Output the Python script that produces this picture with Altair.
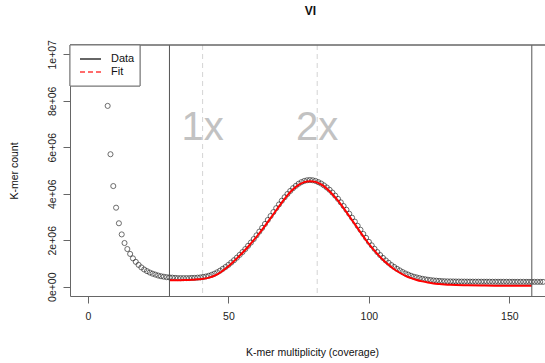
import altair as alt
import pandas as pd

# Observed k-mer histogram: multiplicity 7..162
coverage = list(range(7, 163))
kmer_count = [
    7780000, 5700000, 4330000, 3400000, 2730000, 2250000, 1880000, 1620000, 1410000, 1220000,
    1070000, 940000, 830000, 740000, 670000, 610000, 560000, 520000, 480000, 450000,
    430000, 410000, 400000, 390000, 380000, 370000, 370000, 370000, 370000, 370000,
    380000, 380000, 390000, 400000, 420000, 440000, 470000, 510000, 560000, 620000,
    690000, 770000, 850000, 940000, 1040000, 1140000, 1250000, 1370000, 1490000, 1620000,
    1760000, 1900000, 2050000, 2210000, 2370000, 2530000, 2700000, 2870000, 3040000, 3210000,
    3380000, 3540000, 3700000, 3850000, 3990000, 4120000, 4240000, 4340000, 4430000, 4500000,
    4550000, 4580000, 4590000, 4580000, 4550000, 4500000, 4440000, 4360000, 4270000, 4170000,
    4050000, 3920000, 3780000, 3630000, 3470000, 3310000, 3140000, 2970000, 2800000, 2620000,
    2450000, 2270000, 2100000, 1930000, 1780000, 1630000, 1490000, 1360000, 1240000, 1130000,
    1030000, 930000, 850000, 770000, 700000, 630000, 570000, 520000, 470000, 430000,
    400000, 370000, 340000, 320000, 300000, 285000, 270000, 260000, 250000, 240000,
    235000, 230000, 228000, 226000, 224000, 222000, 221000, 220000, 219000, 218000,
    217000, 216000, 216000, 215000, 215000, 214000, 214000, 213000, 213000, 212000,
    212000, 212000, 211000, 211000, 211000, 210000, 210000, 210000, 210000, 209000,
    209000, 209000, 209000, 208000, 208000, 208000,
]

# Model fit over the fitted range
fit_coverage = [
    29, 31, 33, 35, 37, 39, 41, 43, 45, 47, 49, 51, 53, 55, 57, 59, 61, 63, 65, 67,
    69, 71, 73, 75, 77, 79, 81, 83, 85, 87, 89, 91, 93, 95, 97, 99, 101, 103, 105, 107,
    109, 111, 113, 115, 117, 119, 121, 123, 125, 127, 129, 131, 135, 140, 145, 150, 158,
]
fit_count = [
    280000, 280000, 280000, 290000, 300000, 320000, 340000, 390000, 470000, 600000,
    780000, 990000, 1220000, 1460000, 1720000, 2000000, 2300000, 2620000, 2950000, 3290000,
    3620000, 3930000, 4190000, 4380000, 4500000, 4540000, 4510000, 4400000, 4220000, 3980000,
    3700000, 3380000, 3040000, 2690000, 2340000, 2000000, 1690000, 1410000, 1160000, 940000,
    750000, 600000, 470000, 370000, 290000, 230000, 180000, 140000, 115000, 95000,
    80000, 70000, 60000, 50000, 45000, 40000, 40000,
]

# Fit-range limits (solid) and haploid peak positions (dashed)
range_limits = [29, 158]
peak_labels = ["1x", "2x"]
peak_positions = [40.8, 81.6]
peak_label_y = [6300000, 6300000]

# Legend entries
legend_labels = ["Data", "Fit"]

x_ticks = [0, 50, 100, 150]
y_ticks = [0, 2000000, 4000000, 6000000, 8000000, 10000000]

FONT = "Liberation Sans"
W, H = 475, 251

hist = pd.DataFrame({"cov": coverage, "count": kmer_count})
fit = pd.DataFrame({"cov": fit_coverage, "count": fit_count})
limits = pd.DataFrame({"cov": range_limits})
peaks = pd.DataFrame({"cov": peak_positions, "label": peak_labels, "y": peak_label_y})
legend = pd.DataFrame({"label": legend_labels})

xs = alt.Scale(domain=[-6.41, 162.7], nice=False, zero=False)
ys = alt.Scale(domain=[-400000, 10400000], nice=False, zero=False)

x_axis = alt.Axis(
    values=x_ticks, format="d", grid=False, tickSize=7, tickColor="#666",
    domainColor="#666", labelFont=FONT, labelFontSize=10.5, labelColor="#222",
    labelPadding=8, title="K-mer multiplicity (coverage)", titleFont=FONT,
    titleFontSize=10.5, titleFontWeight="normal", titleColor="#111",
    titleX=242, titleY=56, titleBaseline="middle", titleAlign="center",
)
y_axis = alt.Axis(
    values=y_ticks, grid=False, tickSize=7, tickColor="#666", domainColor="#666",
    labelExpr="replace(format(datum.value, '.0e'), 'e+', 'e+0')",
    labelFont=FONT, labelFontSize=10.5, labelColor="#222", labelAngle=270,
    labelAlign="center", labelBaseline="bottom", labelPadding=6,
    title="K-mer count", titleFont=FONT, titleFontSize=10.5,
    titleFontWeight="normal", titleColor="#111", titleAngle=270,
    titleX=-56, titleY=H / 2, titleAlign="center", titleBaseline="middle",
)


def X(field):
    return alt.X(field, type="quantitative", scale=xs, axis=x_axis)


def Y(field):
    return alt.Y(field, type="quantitative", scale=ys, axis=y_axis)


peak_rules = alt.Chart(peaks).mark_rule(
    color="#d4d4d4", strokeDash=[5, 4], strokeWidth=1
).encode(x=X("cov"))

peak_text = alt.Chart(peaks).mark_text(
    font=FONT, fontSize=40, color="#c2c2c2", align="center", baseline="alphabetic"
).encode(x=X("cov"), y=Y("y"), text="label:N")

points = alt.Chart(hist).mark_point(
    shape="circle", filled=False, size=26, strokeWidth=0.9, color="#1a1a1a", clip=True
).encode(x=X("cov"), y=Y("count"))

fit_line = alt.Chart(fit).mark_line(
    color="#ff0000", strokeWidth=2, interpolate="monotone", clip=True
).encode(x=X("cov"), y=Y("count"))

limit_rules = alt.Chart(limits).mark_rule(color="#555", strokeWidth=1).encode(x=X("cov"))

top_border = alt.Chart(legend).mark_rule(color="#666", strokeWidth=1).encode(
    x=alt.value(0), x2=alt.value(W), y=alt.value(0)
)

# Legend box in the top-left corner
legend_box = alt.Chart(legend).mark_rect(
    fill="white", stroke="#777", strokeWidth=1
).encode(x=alt.value(0), x2=alt.value(70), y=alt.value(0), y2=alt.value(41))

legend_data = alt.Chart(legend).transform_filter("datum.label == 'Data'").mark_rule(
    color="#333", strokeWidth=1.5
).encode(x=alt.value(10), x2=alt.value(31), y=alt.value(14))

legend_fit = alt.Chart(legend).transform_filter("datum.label == 'Fit'").mark_rule(
    color="#ff3b3b", strokeWidth=1.5, strokeDash=[5, 3]
).encode(x=alt.value(10), x2=alt.value(31), y=alt.value(27))

text_style = dict(font=FONT, fontSize=11, color="#111", align="left", baseline="middle")
legend_text_data = alt.Chart(legend).transform_filter("datum.label == 'Data'").mark_text(
    **text_style
).encode(x=alt.value(41), y=alt.value(14), text="label:N")
legend_text_fit = alt.Chart(legend).transform_filter("datum.label == 'Fit'").mark_text(
    **text_style
).encode(x=alt.value(41), y=alt.value(27), text="label:N")

chart = alt.layer(
    peak_rules, peak_text, points, fit_line, limit_rules, top_border,
    legend_box, legend_data, legend_fit, legend_text_data, legend_text_fit,
).properties(
    width=W, height=H,
    title=alt.TitleParams("VI", font=FONT, fontSize=12, fontWeight="bold",
                          color="#111", anchor="middle", offset=22, dx=3),
    autosize=alt.AutoSizeParams(type="none"),
    padding={"left": 70, "top": 45, "right": 0, "bottom": 67},
).configure_view(stroke=None)

chart.save("out.html", embed_options={"renderer": "svg", "actions": False})
